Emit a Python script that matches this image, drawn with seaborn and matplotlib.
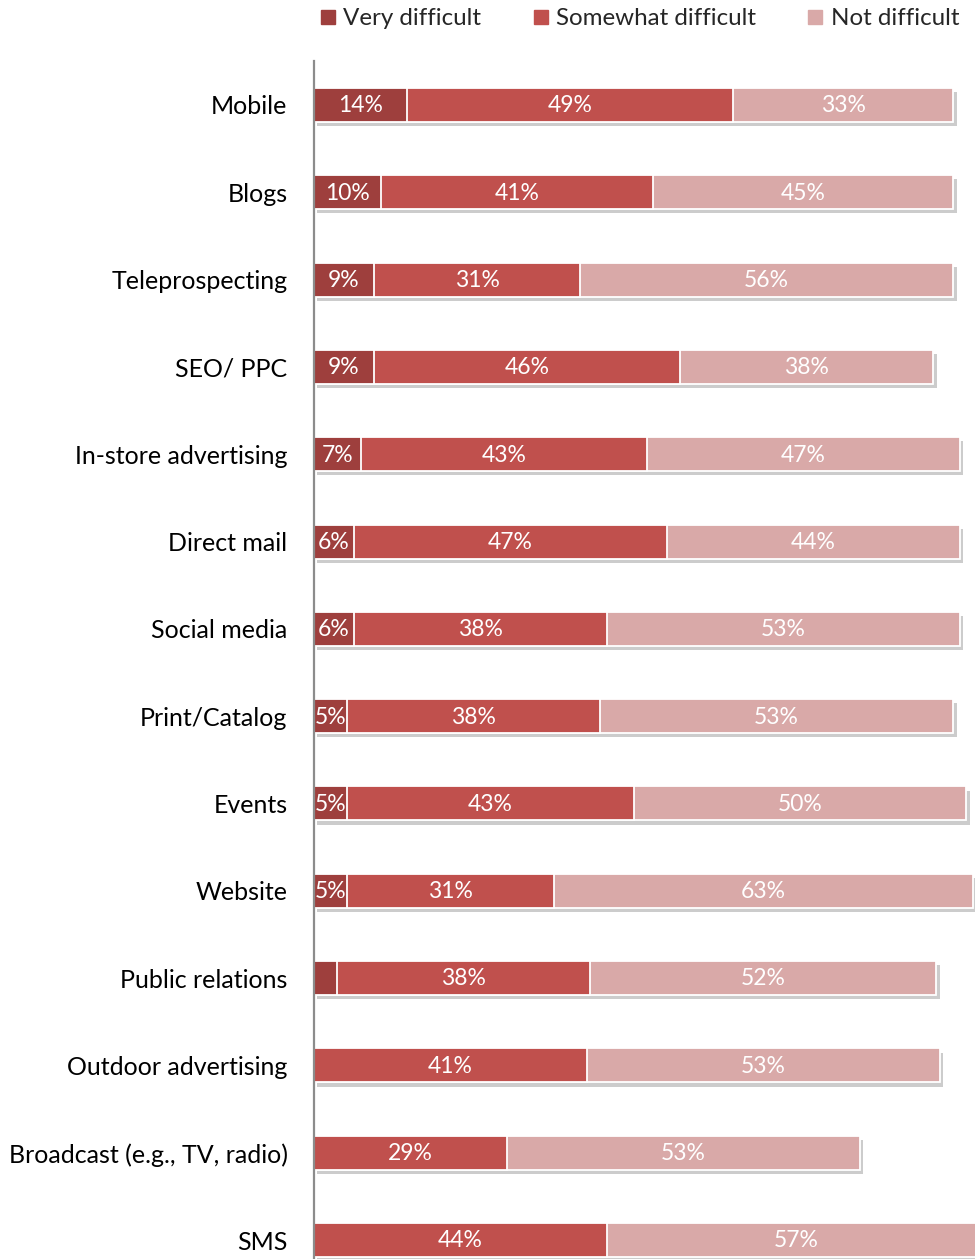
import matplotlib
matplotlib.use("Agg")
import matplotlib.pyplot as plt
import matplotlib.patheffects as pe
from matplotlib.lines import Line2D
import pandas as pd
import seaborn as sns

categories = ["Mobile", "Blogs", "Teleprospecting", "SEO/ PPC", "In-store advertising",
              "Direct mail", "Social media", "Print/Catalog", "Events", "Website",
              "Public relations", "Outdoor advertising", "Broadcast (e.g., TV, radio)", "SMS"]
very_difficult = [14, 10, 9, 9, 7, 6, 6, 5, 5, 5, 3.5, 0, 0, 0]
somewhat_difficult = [49, 41, 31, 46, 43, 47, 38, 38, 43, 31, 38, 41, 29, 44]
not_difficult = [33, 45, 56, 38, 47, 44, 53, 53, 50, 63, 52, 53, 53, 57]
series_names = ["Very difficult", "Somewhat difficult", "Not difficult"]
colors = ["#9E3F3D", "#C0504D", "#D9A9A8"]

df = pd.DataFrame({
    "category": categories,
    "very": very_difficult,
    "somewhat": somewhat_difficult,
    "not": not_difficult,
})
df["cum1"] = df["very"]
df["cum2"] = df["very"] + df["somewhat"]
df["cum3"] = df["cum2"] + df["not"]

sns.set_theme(style="white")
plt.rcParams["font.family"] = ["Lato", "DejaVu Sans"]

fig = plt.figure(figsize=(9.75, 12.59), dpi=100)
ax = fig.add_axes([314 / 975, -0.0196, (975 - 314) / 975, 0.9709])

bar_w = 0.39
shadow = [pe.SimplePatchShadow(offset=(2.5, -3), shadow_rgbFace="#8f8f8f", alpha=0.45),
          pe.Normal()]

# Stacked bars drawn as cumulative layers, back to front
for col, color, fx in [("cum3", colors[2], shadow), ("cum2", colors[1], None), ("cum1", colors[0], None)]:
    sns.barplot(data=df, x=col, y="category", order=categories, orient="h",
                color=color, saturation=1, width=bar_w, edgecolor="white",
                linewidth=1.3, ax=ax, errorbar=None)
    if fx is not None:
        for p in ax.patches:
            p.set_path_effects(fx)

# Segment value labels
for i, row in df.iterrows():
    segs = [(0, row["very"]), (row["cum1"], row["somewhat"]), (row["cum2"], row["not"])]
    for start, val in segs:
        if val >= 5:
            ax.text(start + val / 2, i + 0.01, f"{val:.0f}%", ha="center", va="center",
                    color="white", fontsize=16.5)

ax.set_xlim(0, 99.3)
ax.set_ylim(len(categories) - 0.5, -0.5)
ax.set_xlabel("")
ax.set_ylabel("")
ax.set_xticks([])
ax.tick_params(axis="y", length=0, pad=19, labelsize=18, labelcolor="black")
for s in ["top", "right", "bottom"]:
    ax.spines[s].set_visible(False)
ax.spines["left"].set_color("#8c8c8c")
ax.spines["left"].set_linewidth(1.6)
ax.spines["left"].set_zorder(5)

handles = [Line2D([0], [0], marker="s", linestyle="none", markersize=10,
                  markerfacecolor=c, markeredgecolor=c) for c in colors]
fig.legend(handles, series_names, loc="upper left", bbox_to_anchor=(321 / 975, 1 - 8 / 1259),
           ncol=3, frameon=False, fontsize=17.4, handlelength=0.55, handletextpad=0.35,
           columnspacing=2.2, borderaxespad=0, borderpad=0)

fig.savefig("out.png", dpi=100)
